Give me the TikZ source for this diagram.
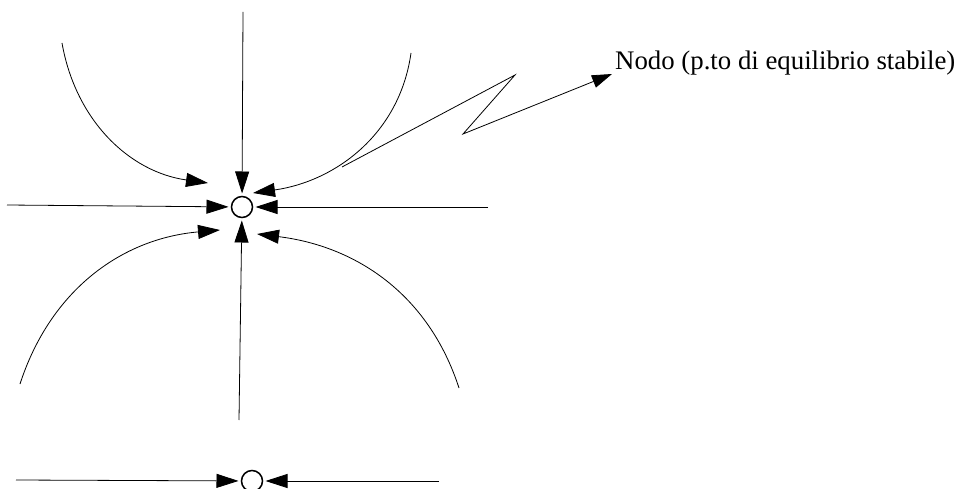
\documentclass[tikz,border=0pt]{standalone}
\usepackage{fontspec}
\setmainfont{Liberation Serif}
\usetikzlibrary{arrows.meta}
\tikzset{
  fl/.style={line width=.8pt,-{Triangle[length=22pt,width=14pt]}},
  eq/.style={circle,draw,line width=1.5pt,minimum size=21pt,inner sep=0pt,outer sep=3pt},
}
\begin{document}
\begin{tikzpicture}[x=1pt,y=1pt]
  \useasboundingbox (0,0) rectangle (955,488);
  \node[eq] (n) at (242,281) {};
  \node[eq] (m) at (252,7) {};
  \coordinate (t) at (243,476); \coordinate (b) at (239,68);
  \coordinate (l) at (7,283); \coordinate (r) at (488,281);
  \draw[fl] (t)--(n); \draw[fl] (b)--(n);
  \draw[fl] (l)--(n); \draw[fl] (r)--(n);
  \coordinate (tl) at (208,305); \coordinate (tr) at (253,295);
  \coordinate (bl) at (220,258); \coordinate (br) at (257,254);
  \draw[fl] (62,445) to[out=-80,in=172] (tl);
  \draw[fl] (411,435) to[out=-98,in=8] (tr);
  \draw[fl] (20,104) to[out=72,in=185] (bl);
  \draw[fl] (459,100) to[out=108,in=-7] (br);
  \coordinate (ml) at (16,8); \coordinate (mr) at (439,7);
  \draw[fl] (ml)--(m); \draw[fl] (mr)--(m);
  \node[anchor=base west,inner sep=1pt,font=\fontsize{26.8}{30}\selectfont] (lbl) at (614,418) {Nodo (p.to di equilibrio stabile)};
  \coordinate (z0) at (342,321); \coordinate (z1) at (515,413); \coordinate (z2) at (463,354);
  \draw[line width=.8pt,-{Triangle[length=20pt,width=13pt]}] (z0)--(z1)--(z2)--([xshift=-2pt,yshift=-4pt]lbl.base west);
\end{tikzpicture}
\end{document}
